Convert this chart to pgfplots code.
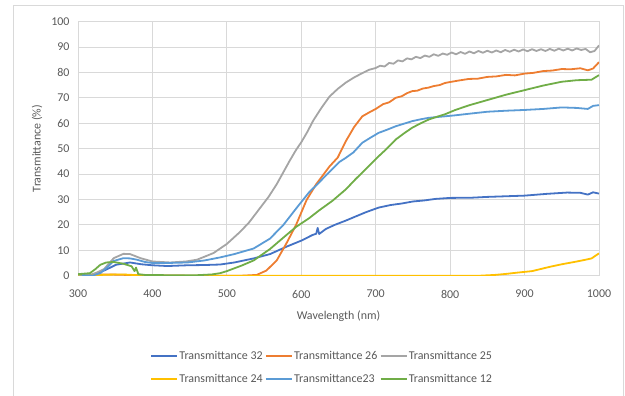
\documentclass[border=0pt]{standalone}
\usepackage{fontspec}
\setmainfont{Carlito}
\usepackage{pgfplots}
\pgfplotsset{compat=1.18}
\definecolor{cA}{HTML}{4472C4}
\definecolor{cB}{HTML}{ED7D31}
\definecolor{cC}{HTML}{A5A5A5}
\definecolor{cD}{HTML}{FFC000}
\definecolor{cE}{HTML}{5B9BD5}
\definecolor{cF}{HTML}{70AD47}
\definecolor{gridc}{HTML}{D9D9D9}
\definecolor{txt}{HTML}{595959}
\begin{document}
\begin{tikzpicture}
\useasboundingbox (0,0) rectangle (625bp,396bp);
\draw[color=gridc, line width=0.75bp] (13bp,-10bp) rectangle (623bp,391bp);
\begin{axis}[
  at={(78bp,120.3bp)}, anchor=south west, scale only axis,
  width=521bp, height=254.2bp,
  xmin=300, xmax=1000, ymin=0, ymax=100,
  xtick={300,400,...,1000}, ytick={0,10,...,100},
  scaled ticks=false,
  /pgf/number format/1000 sep={},
  /pgf/number format/assume math mode=true,
  grid=major, grid style={color=gridc, line width=0.75bp},
  axis line style={draw=gridc, line width=0.75bp},
  major tick length=0pt, tick style={draw=none},
  tick label style={font=\fontsize{12}{14}\selectfont, color=txt},
  xticklabel style={yshift=-11bp}, yticklabel style={xshift=-5bp},
  label style={font=\fontsize{12}{14}\selectfont, color=txt},
  xlabel={Wavelength (nm)}, ylabel={Transmittance (\%)},
  xlabel style={at={(axis description cs:0.5,-0.1587)}, anchor=center},
  ylabel style={at={(axis description cs:-0.0787,0.5)}, anchor=center},
  legend columns=3, legend cell align=left,
  legend style={at={(axis description cs:0.4678,-0.36)}, anchor=center,
    draw=none, fill=none, font=\fontsize{12}{14}\selectfont, text=txt,
    row sep=11bp, nodes={inner sep=1.2bp},
    /tikz/every even column/.append style={column sep=1bp}},
  legend image code/.code={\draw[#1, line width=2bp] (0bp,0bp) -- (26bp,0bp);},
  every axis plot/.append style={line width=1.8bp, line join=round},
]
\addplot[cA] coordinates {(300,0.2)(320,0.2)(338,2.4)(351,4.3)(370,5.2)(385,4.5)(400,4.1)(420,3.8)(447,4.1)(470,4.2)(491,4.4)(510,5.2)(536,6.8)(558,8.5)(580,11.4)(600,13.8)(615,16)(620,16.5)(622,18.8)(624,16.4)(633,18.4)(645,20)(660,21.7)(673,23.3)(687,25)(704,26.8)(720,27.8)(735,28.4)(750,29.2)(765,29.6)(780,30.2)(800,30.6)(830,30.7)(850,31)(880,31.3)(900,31.5)(930,32.2)(957,32.7)(975,32.6)(985,31.9)(992,32.8)(1000,32.3)};
\addlegendentry{Transmittance 32}
\addplot[cB] coordinates {(300,0.2)(340,0.5)(380,0.2)(450,0)(520,0)(540,0.3)(553,2)(567,6)(580,12.7)(593,20)(607,29.7)(620,36)(638,43)(649,46.5)(660,53)(671,58.5)(682,62.7)(691,64.2)(700,65.6)(710,67.5)(718,68.2)(727,70)(735,70.6)(742,71.8)(749,72.6)(756,72.8)(763,73.6)(771,74)(778,74.6)(786,75)(793,75.8)(800,76.2)(812,76.8)(825,77.4)(837,77.5)(850,78.2)(862,78.4)(875,79)(887,78.8)(900,79.5)(912,79.8)(925,80.5)(937,80.7)(950,81.3)(962,81.2)(975,81.6)(985,80.8)(992,81.5)(1000,84)};
\addlegendentry{Transmittance 26}
\addplot[cC] coordinates {(300,0.3)(310,0.2)(316,0.3)(325,1.2)(335,2.6)(348,6.9)(361,8.6)(370,8.5)(384,6.9)(400,5.6)(424,5.2)(445,5.6)(460,6.3)(482,8.9)(500,12.5)(518,17.3)(530,21)(544,26.4)(556,31)(567,36)(584,45)(593,49.5)(600,52.5)(608,56.5)(616,61)(627,66)(638,70.5)(649,73.5)(660,76)(671,78)(682,79.7)(691,81)(700,81.7)(706,82.6)(712,82.3)(718,83.7)(724,83.4)(730,84.7)(736,84.3)(742,85.5)(748,85.1)(754,86.1)(760,85.6)(766,86.6)(772,86.1)(778,87.1)(784,86.5)(790,87.4)(796,86.9)(802,87.8)(808,87.1)(814,88)(820,87.3)(826,88.2)(832,87.5)(838,88.4)(844,87.7)(850,88.5)(856,87.8)(862,88.6)(868,87.9)(874,88.8)(880,88.1)(886,88.9)(892,88.2)(898,89)(904,88.3)(910,89.1)(916,88.4)(922,89.1)(928,88.4)(934,89.2)(940,88.5)(946,89.3)(952,88.6)(958,89.3)(964,88.6)(970,89.4)(976,88.8)(982,89.2)(988,87.9)(994,88.4)(1000,90.6)};
\addlegendentry{Transmittance 25}
\addplot[cD] coordinates {(300,0)(340,0.4)(360,0.5)(380,0.2)(400,0)(840,0)(860,0.3)(875,0.7)(890,1.2)(910,1.8)(934,3.5)(950,4.5)(965,5.3)(979,6.1)(990,6.8)(995,7.8)(1000,8.8)};
\addlegendentry{Transmittance 24}
\addplot[cE] coordinates {(300,0.5)(310,0.2)(320,0.1)(330,1)(340,3.5)(348,5.8)(361,6.9)(370,6.8)(379,6.3)(390,5.4)(400,5)(420,5)(447,5.2)(470,6)(491,7.2)(510,8.5)(536,10.7)(558,14.6)(576,20)(593,26.4)(611,33)(620,35.5)(635,40)(651,44.7)(660,46.4)(670,48.5)(682,52.3)(693,54.3)(704,56.2)(715,57.4)(727,58.8)(738,59.8)(749,60.8)(760,61.5)(771,62.1)(782,62.4)(793,62.7)(807,63.1)(825,63.7)(850,64.5)(875,64.9)(900,65.2)(925,65.6)(950,66.2)(970,66)(985,65.6)(992,66.8)(1000,67.1)};
\addlegendentry{Transmittance23}
\addplot[cF] coordinates {(300,0.6)(316,1)(323,2.5)(330,4.3)(338,5.2)(348,5.4)(361,4.7)(372,3.7)(376,1.8)(378,3.2)(381,0.6)(390,0.3)(420,0.2)(460,0.2)(480,0.5)(491,1)(500,1.8)(520,4)(536,6)(558,10.5)(580,16)(593,19.2)(610,22.5)(624,25.7)(642,29.5)(660,34)(673,38)(687,42)(704,47)(715,50)(727,53.6)(738,56)(749,58.2)(760,59.9)(771,61.4)(782,62.5)(793,63.5)(807,65.2)(825,67)(850,69.1)(875,71.2)(900,73)(925,74.8)(950,76.3)(970,76.9)(990,77.1)(1000,78.9)};
\addlegendentry{Transmittance 12}
\end{axis}
\end{tikzpicture}
\end{document}
